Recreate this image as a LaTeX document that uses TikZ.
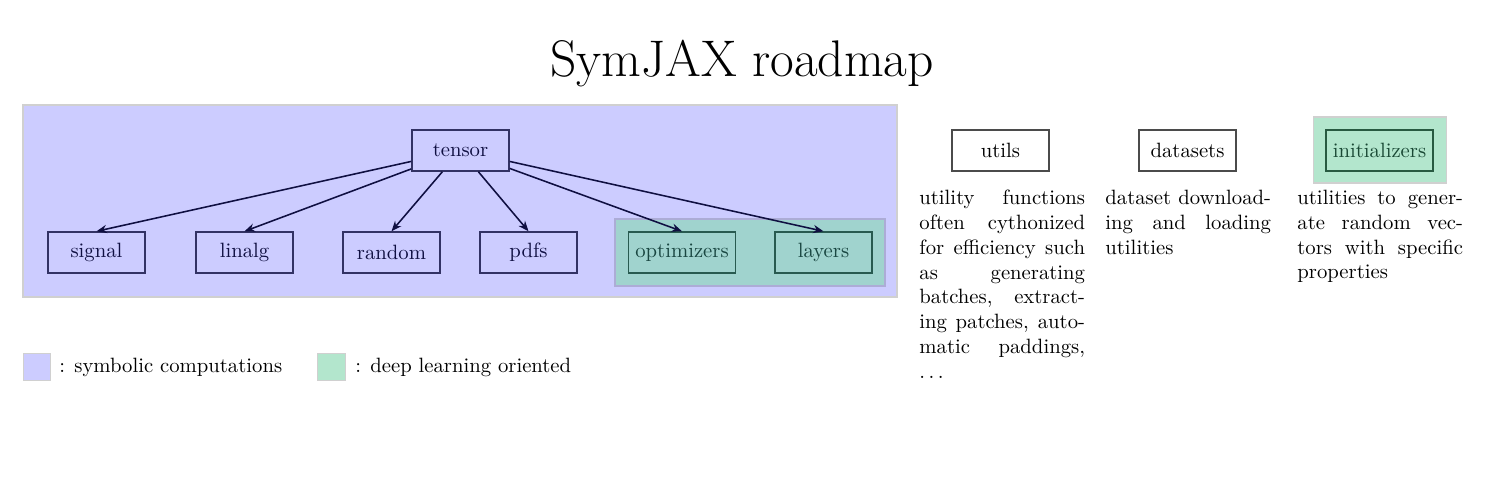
\documentclass[tikz,border=0pt]{standalone}
\usetikzlibrary{arrows.meta}
\definecolor{bgblue}{RGB}{204,204,255}
\definecolor{bgborder}{RGB}{208,208,208}
\definecolor{bggreen}{RGB}{179,230,205}
\definecolor{bggreenb}{RGB}{160,211,206}
\definecolor{bggreenbborder}{RGB}{172,172,214}
\definecolor{navy}{RGB}{15,15,65}
\definecolor{navyline}{RGB}{50,50,100}
\definecolor{tealtext}{RGB}{25,70,65}
\definecolor{tealline}{RGB}{40,90,80}
\definecolor{gtext}{RGB}{25,72,52}
\definecolor{gline}{RGB}{40,90,65}
\definecolor{grayline}{RGB}{75,75,75}
\begin{document}
\begin{tikzpicture}[x=0.4831pt,y=-0.4831pt,
  modbox/.style={draw, line width=0.7pt, minimum width=46.9pt, minimum height=19.8pt, inner sep=3.33pt, font=\fontsize{10}{12}\selectfont},
  bluemod/.style={modbox, draw=navyline, text=navy},
  tealmod/.style={modbox, draw=tealline, text=tealtext},
  greenmod/.style={modbox, draw=gline, text=gtext},
  graymod/.style={modbox, draw=grayline, text=black},
  arr/.style={draw=navy, line width=0.75pt, -{Stealth[length=5pt,width=4pt]}},
  desc/.style={anchor=north west, inner sep=0pt, text width=80pt, align=justify, font=\fontsize{10}{12}\selectfont},
  legsq/.style={draw=bgborder, line width=0.5pt, minimum size=13.5pt, inner sep=0pt},
  legtxt/.style={anchor=base west, inner sep=0pt, font=\fontsize{10}{12}\selectfont}
]
\useasboundingbox (0,0) rectangle (1500,488);

% title
\node[anchor=base, inner sep=0pt, font=\Huge] (title) at (742,76) {SymJAX roadmap};

% background regions
\draw[bgborder, line width=0.5pt, fill=bgblue] (23,105) rectangle (897,297);
\draw[bggreenbborder, line width=0.5pt, fill=bggreenb] (615,219) rectangle (885,286);
\draw[bgborder, line width=0.5pt, fill=bggreen] (1313,117) rectangle (1446,183);

% modules
\node[bluemod] (tensor) at (460.5,150.5) {tensor};
\node[bluemod] (signal) at (96.5,252.5) {signal};
\node[bluemod] (linalg) at (244.5,252.5) {linalg};
\node[bluemod] (random) at (391.5,252.5) {random};
\node[bluemod] (pdfs) at (528.5,252.5) {pdfs};
\node[tealmod] (optim) at (682,252.5) {optimizers};
\node[tealmod] (layers) at (823.5,252.5) {layers};

\node[graymod] (utils) at (1000.5,150.5) {utils};
\node[graymod] (datasets) at (1187.5,150.5) {datasets};
\node[greenmod] (init) at (1379.5,150.5) {initializers};

% connectors
\draw[arr] (tensor) -- (signal.north);
\draw[arr] (tensor) -- (linalg.north);
\draw[arr] (tensor) -- (random.north);
\draw[arr] (tensor) -- (pdfs.north);
\draw[arr] (tensor) -- (optim.north);
\draw[arr] (tensor) -- (layers.north);

% descriptions
\node[desc] (dutils) at (919,189.6) {utility functions often cythonized for efficiency such as generating batches, extracting patches, auto\-matic paddings, $\ldots$};
\node[desc] (ddata) at (1105,189.6) {dataset downloading and loading utilities};
\node[desc] (dinit) at (1297,189.6) {utilities to generate random vectors with specific properties};

% legend
\node[legsq, fill=bgblue] (lega) at (37,367) {};
\node[legtxt] (legatxt) at (59,372) {: symbolic computations};
\node[legsq, fill=bggreen] (legb) at (331.5,367) {};
\node[legtxt] (legbtxt) at (355,372) {: deep learning oriented};
\end{tikzpicture}
\end{document}
